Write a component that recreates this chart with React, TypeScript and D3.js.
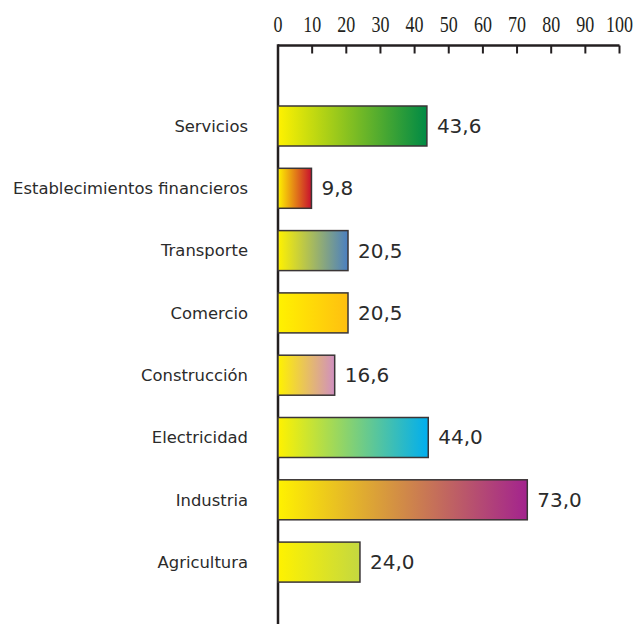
import React from "react";
import * as d3 from "d3";

const categories = [
  "Servicios",
  "Establecimientos financieros",
  "Transporte",
  "Comercio",
  "Construcción",
  "Electricidad",
  "Industria",
  "Agricultura",
];
const values = [43.6, 9.8, 20.5, 20.5, 16.6, 44.0, 73.0, 24.0];
const valueLabels = ["43,6", "9,8", "20,5", "20,5", "16,6", "44,0", "73,0", "24,0"];
const endColors = ["#008a45", "#c8102e", "#4a7fc1", "#ffbf10", "#d08fc0", "#00aeef", "#a3238e", "#c4d840"];
const ticks = [0, 10, 20, 30, 40, 50, 60, 70, 80, 90, 100];

const W = 638;
const H = 624;

export default function App() {
  const x = d3.scaleLinear().domain([0, 100]).range([278, 619.5]);
  const y = d3
    .scaleBand<string>()
    .domain(categories)
    .range([106, 106 + 62.3 * (8 - 0.358)])
    .paddingInner(0.358)
    .paddingOuter(0);
  const axisY = 45.5;
  const sans = "'DejaVu Sans', sans-serif";
  return (
    <svg width={W} height={H} style={{ position: "absolute", left: 0, top: 0, background: "#fff" }}>
      <defs>
        {endColors.map((c, i) => (
          <linearGradient key={i} id={`g${i}`} x1="0" x2="1" y1="0" y2="0">
            <stop offset="0" stopColor="#fff200" />
            <stop offset="1" stopColor={c} />
          </linearGradient>
        ))}
      </defs>
      <line x1={x(0)} x2={x(100)} y1={axisY} y2={axisY} stroke="#231f20" strokeWidth={2.5} />
      <line x1={x(0)} x2={x(0)} y1={axisY - 1.25} y2={H} stroke="#231f20" strokeWidth={2.5} />
      {ticks.map((t) => (
        <g key={t}>
          {t > 0 && (
            <line x1={x(t)} x2={x(t)} y1={axisY} y2={axisY + 8} stroke="#231f20" strokeWidth={2} />
          )}
          <text
            transform={`translate(${x(t)},32) scale(1,1.3)`}
            textAnchor="middle"
            fontFamily="'Liberation Serif', serif"
            fontSize={18}
            fill="#231f20"
          >
            {t}
          </text>
        </g>
      ))}
      {categories.map((c, i) => {
        const y0 = y(c)!;
        const bw = y.bandwidth();
        return (
          <g key={c}>
            <rect
              x={x(0)}
              y={y0}
              width={x(values[i]) - x(0)}
              height={bw}
              fill={`url(#g${i})`}
              stroke="#3a3536"
              strokeWidth={1.5}
            />
            <text
              x={248}
              y={y0 + bw / 2}
              dy="0.35em"
              textAnchor="end"
              fontFamily={sans}
              fontSize={16.4}
              fill="#2b2b2b"
            >
              {c}
            </text>
            <text
              x={x(values[i]) + 10}
              y={y0 + bw / 2}
              dy="0.35em"
              fontFamily={sans}
              fontSize={20}
              fill="#2b2b2b"
            >
              {valueLabels[i]}
            </text>
          </g>
        );
      })}
    </svg>
  );
}
